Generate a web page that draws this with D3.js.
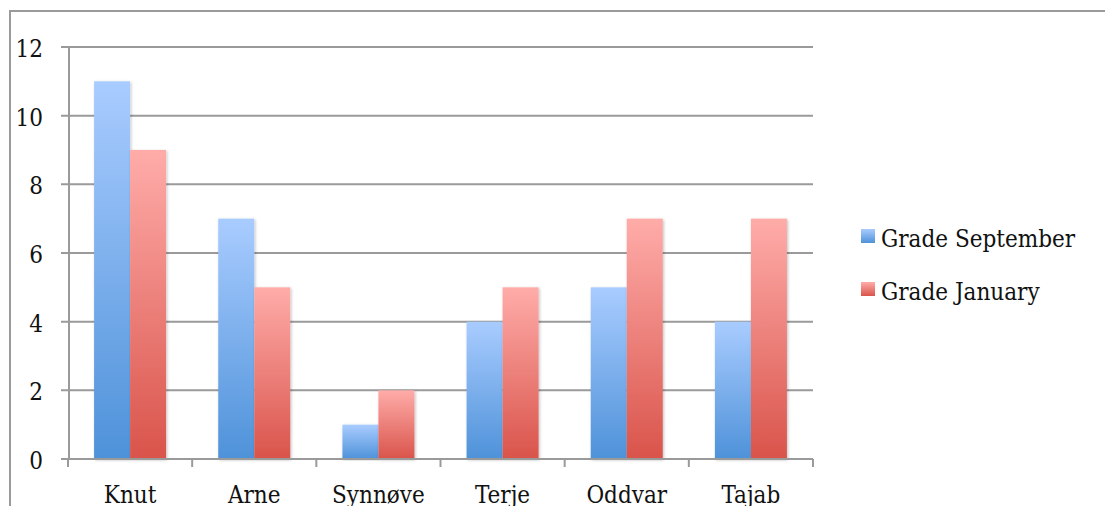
<!DOCTYPE html>
<html>
<head>
<meta charset="utf-8">
<script src="https://cdn.jsdelivr.net/npm/d3@7"></script>
<style>
	body { margin: 0; background: #fff; }
	text { font-family: 'DejaVu Serif Condensed', 'DejaVu Serif', serif; font-stretch: condensed; fill: #111; }
</style>
</head>
<body>
<div id="chart"></div>
<script>
const names = ['Knut', 'Arne', 'Synnøve', 'Terje', 'Oddvar', 'Tajab'];
const gradeSeptember = [11, 7, 1, 4, 5, 4];
const gradeJanuary = [9, 5, 2, 5, 7, 7];
const seriesNames = ['Grade September', 'Grade January'];
const yTicks = [0, 2, 4, 6, 8, 10, 12];

window.onload = function() {
	const width = 1105;
	const height = 506;
	const margin = { top: 47, right: 292, bottom: 47, left: 68 };
	const fontSize = '24px';

	const svg = d3.select('#chart')
		.append('svg')
		.attr('width', width)
		.attr('height', height);

	// gradients
	const defs = svg.append('defs');
	const grads = [['blueGrad', '#a9ccff', '#4e92d9'], ['redGrad', '#ffaca9', '#d9544b']];
	grads.forEach(g => {
		const lg = defs.append('linearGradient')
			.attr('id', g[0])
			.attr('x1', 0).attr('y1', 0).attr('x2', 0).attr('y2', 1);
		lg.append('stop').attr('offset', '0%').attr('stop-color', g[1]);
		lg.append('stop').attr('offset', '100%').attr('stop-color', g[2]);
	});
	const shadow = defs.append('filter').attr('id', 'shadow')
		.attr('x', '-20%').attr('y', '-5%').attr('width', '140%').attr('height', '110%');
	shadow.append('feDropShadow')
		.attr('dx', 1).attr('dy', 1).attr('stdDeviation', 1.5)
		.attr('flood-color', '#000').attr('flood-opacity', 0.25);

	// outer frame
	svg.append('rect')
		.attr('x', 10).attr('y', 11)
		.attr('width', 1110).attr('height', 520)
		.attr('fill', 'none')
		.attr('stroke', '#9a9a9a')
		.attr('stroke-width', 2);

	const xScale = d3.scaleBand()
		.domain(names)
		.range([margin.left, width - margin.right])
		.paddingInner(0)
		.paddingOuter(0);

	const yScale = d3.scaleLinear()
		.domain([0, 12])
		.range([height - margin.bottom, margin.top]);

	const groupWidth = 72;
	const barWidth = groupWidth / 2;

	// gridlines
	svg.append('g')
		.selectAll('line')
		.data(yTicks)
		.join('line')
		.attr('x1', margin.left - 7)
		.attr('x2', width - margin.right)
		.attr('y1', d => yScale(d))
		.attr('y2', d => yScale(d))
		.attr('stroke', '#9a9a9a')
		.attr('stroke-width', 2);

	// y axis line
	svg.append('line')
		.attr('x1', margin.left + 1).attr('x2', margin.left + 1)
		.attr('y1', yScale(12)).attr('y2', yScale(0))
		.attr('stroke', '#9a9a9a')
		.attr('stroke-width', 2);

	// y labels
	svg.append('g')
		.selectAll('text')
		.data(yTicks)
		.join('text')
		.attr('x', 43)
		.attr('y', d => yScale(d) + 10)
		.attr('text-anchor', 'end')
		.style('font-size', fontSize)
		.text(d => d);

	// bars
	const series = [gradeSeptember, gradeJanuary];
	series.forEach((vals, si) => {
		svg.append('g')
			.selectAll('rect')
			.data(vals)
			.join('rect')
			.attr('x', (d, i) => xScale(names[i]) + xScale.bandwidth() / 2 - groupWidth / 2 + si * barWidth)
			.attr('y', d => yScale(d))
			.attr('width', barWidth)
			.attr('height', d => yScale(0) - yScale(d))
			.attr('fill', si === 0 ? 'url(#blueGrad)' : 'url(#redGrad)')
			.attr('filter', 'url(#shadow)');
	});

	// x axis
	const xAxis = svg.append('g');
	xAxis.append('line')
		.attr('x1', margin.left).attr('x2', width - margin.right)
		.attr('y1', yScale(0)).attr('y2', yScale(0))
		.attr('stroke', '#9a9a9a')
		.attr('stroke-width', 2);
	const tickPos = names.map(n => xScale(n)).concat([width - margin.right]);
	xAxis.selectAll('.tick')
		.data(tickPos)
		.join('line')
		.attr('x1', d => d).attr('x2', d => d)
		.attr('y1', yScale(0)).attr('y2', yScale(0) + 8)
		.attr('stroke', '#9a9a9a')
		.attr('stroke-width', 2);
	xAxis.selectAll('text')
		.data(names)
		.join('text')
		.attr('x', d => xScale(d) + xScale.bandwidth() / 2)
		.attr('y', 503)
		.attr('text-anchor', 'middle')
		.style('font-size', fontSize)
		.text(d => d);

	// legend
	const legend = svg.append('g');
	seriesNames.forEach((s, i) => {
		legend.append('rect')
			.attr('x', 861)
			.attr('y', 229 + i * 53)
			.attr('width', 14)
			.attr('height', 14)
			.attr('fill', i === 0 ? 'url(#blueGrad)' : 'url(#redGrad)');
		legend.append('text')
			.attr('x', 881)
			.attr('y', 247 + i * 53)
			.style('font-size', fontSize)
			.text(s);
	});
};
</script>
</body>
</html>
